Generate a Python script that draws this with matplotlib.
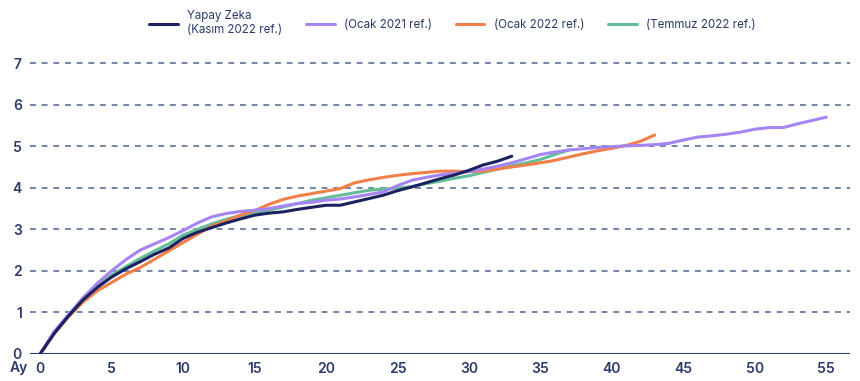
import matplotlib
matplotlib.use("Agg")
import matplotlib.pyplot as plt

# monthly index values
ai_nov22 = [0, 0.5, 0.92, 1.3, 1.6, 1.85, 2.05, 2.22, 2.4, 2.55, 2.78, 2.93, 3.04,
            3.15, 3.25, 3.34, 3.39, 3.42, 3.48, 3.53, 3.58, 3.58, 3.66, 3.74, 3.82,
            3.93, 4.02, 4.12, 4.22, 4.31, 4.42, 4.55, 4.64, 4.76]
jan21 = [0, 0.55, 0.95, 1.35, 1.7, 2.0, 2.27, 2.5, 2.65, 2.8, 2.97, 3.15, 3.3,
         3.38, 3.43, 3.46, 3.5, 3.56, 3.62, 3.65, 3.7, 3.73, 3.78, 3.84, 3.9,
         4.05, 4.18, 4.25, 4.31, 4.35, 4.39, 4.45, 4.52, 4.6, 4.7, 4.8, 4.86,
         4.91, 4.94, 4.97, 4.99, 5.01, 5.02, 5.04, 5.07, 5.15, 5.22, 5.25, 5.29,
         5.34, 5.41, 5.45, 5.45, 5.54, 5.62, 5.7]
jan22 = [0, 0.5, 0.9, 1.25, 1.52, 1.72, 1.92, 2.08, 2.28, 2.48, 2.68, 2.88, 3.08,
         3.2, 3.34, 3.45, 3.6, 3.72, 3.8, 3.86, 3.92, 3.98, 4.12, 4.19, 4.25,
         4.3, 4.34, 4.37, 4.4, 4.4, 4.39, 4.4, 4.45, 4.5, 4.55, 4.6, 4.66, 4.74,
         4.82, 4.89, 4.95, 5.02, 5.12, 5.27]
jul22 = [0, 0.5, 0.92, 1.3, 1.62, 1.9, 2.1, 2.3, 2.48, 2.65, 2.86, 3.0, 3.13,
         3.24, 3.33, 3.4, 3.46, 3.54, 3.62, 3.7, 3.76, 3.82, 3.88, 3.94, 3.97,
         3.99, 4.03, 4.1, 4.16, 4.23, 4.29, 4.37, 4.45, 4.53, 4.6, 4.68, 4.8, 4.91]

series = [
    ("Yapay Zeka\n(Kasım 2022 ref.)", ai_nov22, "#1c2160"),
    ("(Ocak 2021 ref.)", jan21, "#a584f4"),
    ("(Ocak 2022 ref.)", jan22, "#f27f48"),
    ("(Temmuz 2022 ref.)", jul22, "#62bd98"),
]
x_ticks = list(range(0, 56, 5))
y_ticks = list(range(0, 8))

TXT = "#2b3a6b"
GRID = "#5c6f96"
plt.rcParams["font.family"] = ["Inter", "DejaVu Sans"]

fig = plt.figure(figsize=(8.6, 3.81), dpi=100)
ax = fig.add_axes([0.035, 0.071, 0.953, 0.785])

for y in y_ticks[1:]:
    ax.axhline(y, color=GRID, lw=1.2, dashes=(3.5, 3.5), zorder=1)
ax.axhline(0, color="#2c3e78", lw=1.5, zorder=1)

handles = {}
for zo, idx in enumerate([3, 2, 1, 0]):
    label, vals, col = series[idx]
    h, = ax.plot(range(len(vals)), vals, color=col, lw=2.2,
                 solid_capstyle="round", label=label, zorder=3 + zo)
    handles[idx] = h

ax.set_xlim(-0.7, 56.64)
ax.set_ylim(0, 7.2)
ax.set_xticks(x_ticks)
ax.set_yticks(y_ticks)
ax.tick_params(length=0, labelsize=10, colors=TXT, pad=6)
for lab in ax.get_xticklabels() + ax.get_yticklabels():
    lab.set_fontweight("semibold")
for s in ax.spines.values():
    s.set_visible(False)

fig.text(10 / 860, 1 - 368 / 381, "Ay", fontsize=10, color=TXT,
         fontweight="semibold", va="center", ha="left")

fig.legend([handles[i] for i in range(4)], [s[0] for s in series],
           loc="upper center", bbox_to_anchor=(0.526, 1.0), ncol=4,
           frameon=False, fontsize=8.3, handlelength=2.5, columnspacing=2.05,
           labelcolor=TXT)

fig.savefig("out.png", dpi=100)
